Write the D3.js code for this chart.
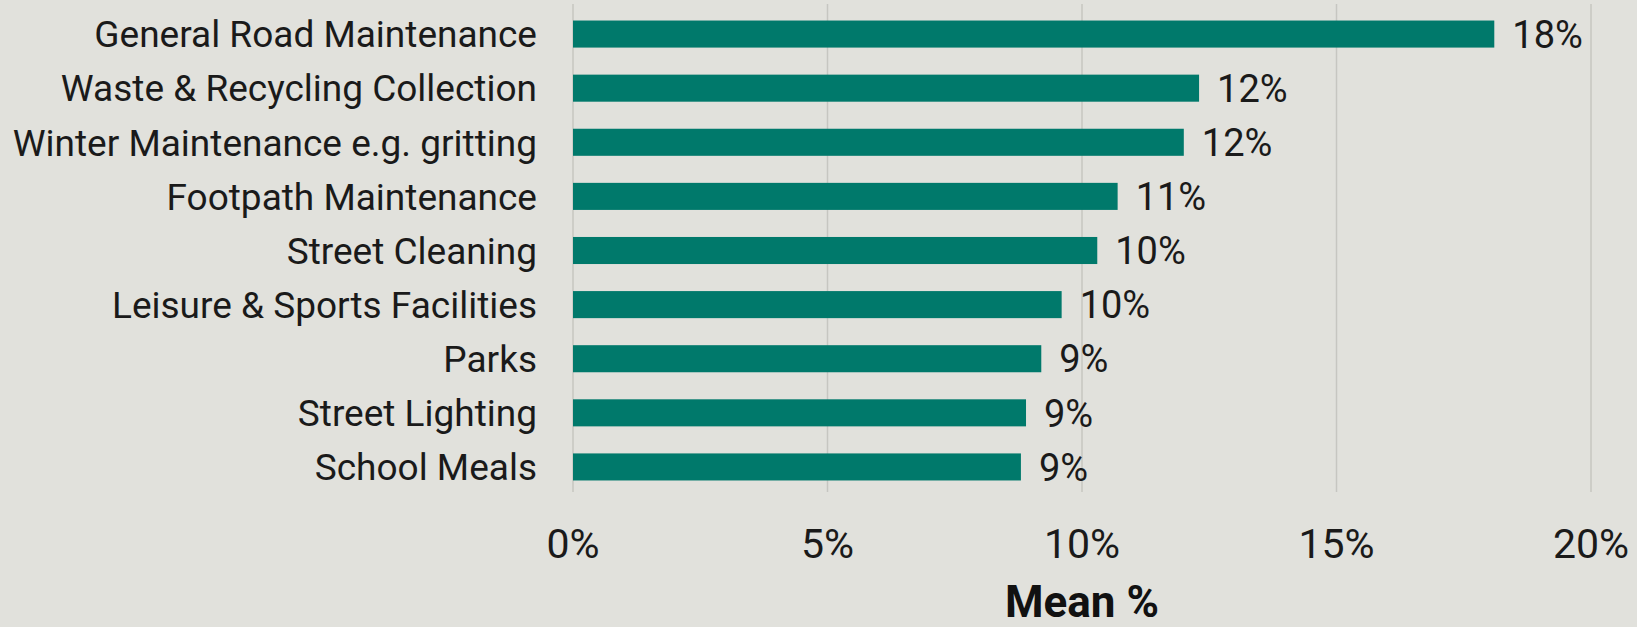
<!DOCTYPE html>
<html>
<head>
<meta charset="utf-8">
<script src="https://cdn.jsdelivr.net/npm/d3@7"></script>
<style>
  body { margin: 0; background: #e1e1dc; }
  svg { display: block; font-family: Roboto, "Liberation Sans", sans-serif; }
  .grid line { stroke: #c6c6c1; stroke-width: 1.5; }
</style>
</head>
<body>
<div id="chart"></div>
<script>
// categories top to bottom and their mean %
const categories = [
  "General Road Maintenance",
  "Waste & Recycling Collection",
  "Winter Maintenance e.g. gritting",
  "Footpath Maintenance",
  "Street Cleaning",
  "Leisure & Sports Facilities",
  "Parks",
  "Street Lighting",
  "School Meals"
];
const meanValues = [18.1, 12.3, 12.0, 10.7, 10.3, 9.6, 9.2, 8.9, 8.8];
const xTicks = [0, 5, 10, 15, 20];
const axisTitle = "Mean %";

const width = 1637;
const height = 627;

const svg = d3.select("#chart").append("svg")
    .attr("width", width)
    .attr("height", height);

const x = d3.scaleLinear().domain([0, 20]).range([573, 1591]);
const y = d3.scaleBand().domain(categories).range([7, 494])
    .paddingInner(0.5).paddingOuter(0.25);

// vertical gridlines
svg.append("g").attr("class", "grid")
  .selectAll("line")
  .data(xTicks)
  .enter().append("line")
    .attr("x1", d => x(d)).attr("x2", d => x(d))
    .attr("y1", 4).attr("y2", 492);

// bars
svg.append("g")
  .selectAll("rect")
  .data(meanValues)
  .enter().append("rect")
    .attr("x", x(0))
    .attr("y", (d, i) => y(categories[i]))
    .attr("width", d => x(d) - x(0))
    .attr("height", y.bandwidth())
    .attr("fill", "#00796b");

// value labels
svg.append("g")
  .selectAll("text")
  .data(meanValues)
  .enter().append("text")
    .attr("x", d => x(d) + 18)
    .attr("y", (d, i) => y(categories[i]) + y.bandwidth() / 2)
    .attr("dy", "0.36em")
    .attr("font-size", 38)
    .attr("fill", "#1a1a1a")
    .text(d => Math.round(d) + "%");

// category labels
svg.append("g")
  .selectAll("text")
  .data(categories)
  .enter().append("text")
    .attr("x", 537)
    .attr("y", d => y(d) + y.bandwidth() / 2)
    .attr("dy", "0.36em")
    .attr("text-anchor", "end")
    .attr("font-size", 37)
    .attr("fill", "#1a1a1a")
    .text(d => d);

// x tick labels
svg.append("g")
  .selectAll("text")
  .data(xTicks)
  .enter().append("text")
    .attr("x", d => x(d))
    .attr("y", 558)
    .attr("text-anchor", "middle")
    .attr("font-size", 41)
    .attr("fill", "#1a1a1a")
    .text(d => d + "%");

// axis title
svg.append("text")
    .attr("x", (x(0) + x(20)) / 2)
    .attr("y", 617)
    .attr("text-anchor", "middle")
    .attr("font-size", 44)
    .attr("font-weight", "bold")
    .attr("fill", "#111")
    .text(axisTitle);
</script>
</body>
</html>
